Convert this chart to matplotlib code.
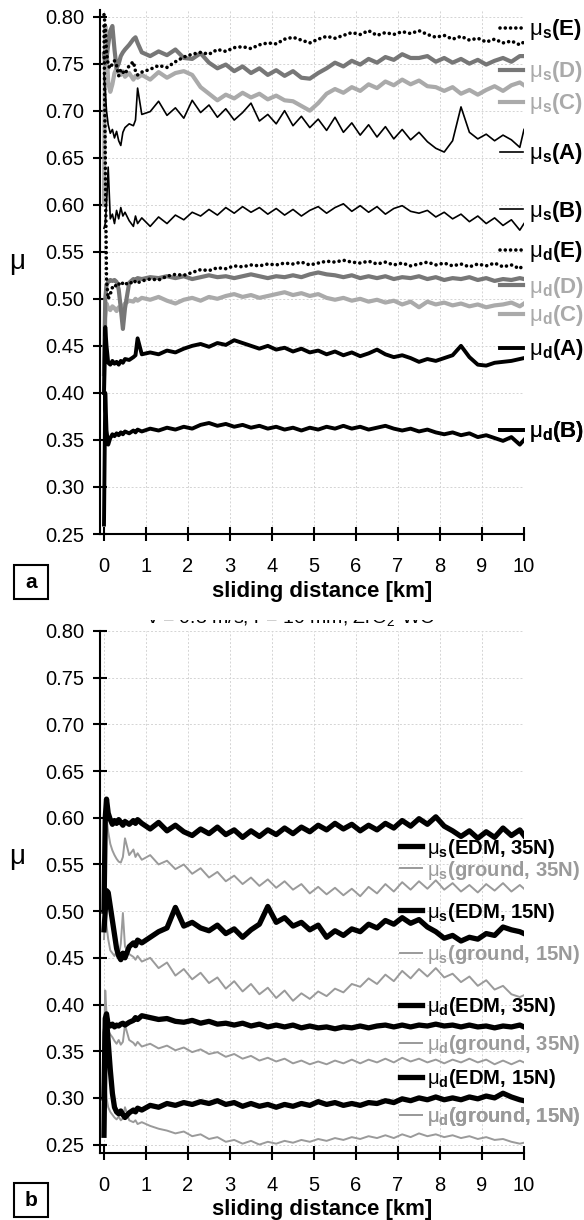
import matplotlib
matplotlib.use("Agg")
import matplotlib.pyplot as plt
from matplotlib.patches import Rectangle
from matplotlib.transforms import Bbox, TransformedBbox

plt.rcParams['font.family'] = ['Liberation Sans', 'DejaVu Sans']
plt.rcParams['mathtext.fontset'] = 'custom'
plt.rcParams['mathtext.rm'] = 'Liberation Sans'
plt.rcParams['mathtext.bf'] = 'Liberation Sans:bold'
plt.rcParams['mathtext.it'] = 'Liberation Sans:italic'

# ---------------- data ----------------
dist_km = [0.0, 0.03, 0.06, 0.1, 0.15, 0.2, 0.25, 0.3, 0.35, 0.4, 0.45, 0.5, 0.6, 0.7, 0.75, 0.8,
           0.9, 1.1, 1.3, 1.5, 1.7, 1.9, 2.1, 2.3, 2.5, 2.7, 2.9, 3.1, 3.3, 3.5, 3.7, 3.9, 4.1, 4.3, 4.5, 4.7, 4.9,
           5.1, 5.3, 5.5, 5.7, 5.9, 6.1, 6.3, 6.5, 6.7, 6.9, 7.1, 7.3, 7.5, 7.7, 7.9, 8.1, 8.3, 8.5, 8.7, 8.9,
           9.1, 9.3, 9.5, 9.7, 9.9, 10.0]

# panel a
mu_s_E = [0.802, 0.790, 0.762, 0.748, 0.745, 0.750, 0.753, 0.748, 0.737, 0.744, 0.741, 0.739, 0.748, 0.752, 0.742, 0.738,
          0.741, 0.744, 0.748, 0.746, 0.752, 0.757, 0.760, 0.762, 0.760, 0.765, 0.763, 0.767, 0.768, 0.766, 0.770, 0.772, 0.771, 0.776, 0.778, 0.775, 0.772,
          0.776, 0.779, 0.777, 0.780, 0.783, 0.781, 0.785, 0.780, 0.783, 0.781, 0.784, 0.782, 0.785, 0.781, 0.778, 0.780, 0.776, 0.779, 0.775, 0.777,
          0.773, 0.776, 0.772, 0.774, 0.770, 0.773]
mu_s_D = [0.760, 0.750, 0.755, 0.770, 0.785, 0.790, 0.765, 0.745, 0.750, 0.758, 0.762, 0.765, 0.770, 0.776, 0.778, 0.772,
          0.762, 0.758, 0.763, 0.759, 0.765, 0.756, 0.755, 0.761, 0.751, 0.745, 0.749, 0.742, 0.747, 0.740, 0.745, 0.738, 0.743, 0.737, 0.742, 0.735, 0.734,
          0.740, 0.745, 0.751, 0.747, 0.753, 0.749, 0.755, 0.751, 0.757, 0.754, 0.760, 0.756, 0.756, 0.758, 0.752, 0.756, 0.751, 0.755, 0.750, 0.754,
          0.749, 0.753, 0.756, 0.752, 0.758, 0.758]
mu_s_C = [0.600, 0.790, 0.770, 0.730, 0.720, 0.728, 0.740, 0.745, 0.740, 0.738, 0.742, 0.736, 0.740, 0.733, 0.737, 0.735,
          0.738, 0.733, 0.741, 0.735, 0.740, 0.742, 0.738, 0.725, 0.718, 0.711, 0.717, 0.713, 0.719, 0.714, 0.718, 0.712, 0.716, 0.711, 0.710, 0.705, 0.700,
          0.708, 0.718, 0.723, 0.719, 0.725, 0.721, 0.728, 0.724, 0.731, 0.727, 0.733, 0.728, 0.732, 0.726, 0.725, 0.721, 0.725, 0.718, 0.722, 0.717,
          0.722, 0.726, 0.721, 0.727, 0.730, 0.727]
mu_s_A = [0.740, 0.720, 0.700, 0.685, 0.676, 0.680, 0.671, 0.678, 0.668, 0.663, 0.677, 0.682, 0.686, 0.684, 0.690, 0.724,
          0.696, 0.699, 0.710, 0.695, 0.703, 0.692, 0.711, 0.698, 0.706, 0.693, 0.702, 0.690, 0.698, 0.708, 0.689, 0.696, 0.686, 0.700, 0.684, 0.694, 0.682,
          0.691, 0.679, 0.693, 0.677, 0.687, 0.674, 0.685, 0.672, 0.683, 0.670, 0.680, 0.669, 0.677, 0.667, 0.660, 0.656, 0.668, 0.704, 0.677, 0.670,
          0.675, 0.668, 0.674, 0.669, 0.661, 0.680]
mu_s_B = [0.575, 0.580, 0.600, 0.640, 0.585, 0.590, 0.580, 0.594, 0.585, 0.597, 0.588, 0.592, 0.583, 0.577, 0.588, 0.580,
          0.586, 0.577, 0.587, 0.580, 0.589, 0.584, 0.592, 0.588, 0.595, 0.589, 0.597, 0.591, 0.598, 0.592, 0.597, 0.590, 0.596, 0.589, 0.595, 0.588, 0.594,
          0.598, 0.591, 0.597, 0.601, 0.593, 0.599, 0.592, 0.598, 0.590, 0.596, 0.599, 0.593, 0.591, 0.594, 0.587, 0.592, 0.585, 0.590, 0.582, 0.588,
          0.580, 0.586, 0.578, 0.584, 0.573, 0.580]
mu_d_E = [0.790, 0.650, 0.520, 0.500, 0.505, 0.512, 0.515, 0.513, 0.516, 0.514, 0.517, 0.515, 0.518, 0.516, 0.519, 0.517,
          0.519, 0.521, 0.520, 0.524, 0.526, 0.525, 0.528, 0.531, 0.530, 0.533, 0.532, 0.535, 0.534, 0.536, 0.535, 0.537, 0.536, 0.538, 0.537, 0.539, 0.536,
          0.538, 0.540, 0.539, 0.541, 0.539, 0.538, 0.540, 0.537, 0.539, 0.536, 0.538, 0.535, 0.537, 0.539, 0.536, 0.538, 0.535, 0.537, 0.534, 0.537,
          0.535, 0.538, 0.534, 0.536, 0.532, 0.537]
mu_d_D = [0.420, 0.500, 0.515, 0.518, 0.520, 0.519, 0.520, 0.518, 0.510, 0.490, 0.468, 0.490, 0.517, 0.521, 0.520, 0.522,
          0.521, 0.523, 0.522, 0.524, 0.522, 0.524, 0.521, 0.523, 0.525, 0.523, 0.524, 0.522, 0.524, 0.526, 0.524, 0.522, 0.524, 0.523, 0.525, 0.523, 0.526,
          0.528, 0.526, 0.525, 0.523, 0.525, 0.522, 0.524, 0.522, 0.524, 0.521, 0.523, 0.522, 0.524, 0.521, 0.523, 0.520, 0.522, 0.521, 0.523, 0.520,
          0.522, 0.519, 0.521, 0.520, 0.522, 0.521]
mu_d_C = [0.400, 0.480, 0.495, 0.490, 0.488, 0.492, 0.490, 0.487, 0.491, 0.489, 0.492, 0.495, 0.498, 0.497, 0.500, 0.498,
          0.501, 0.499, 0.502, 0.498, 0.495, 0.499, 0.501, 0.498, 0.502, 0.500, 0.503, 0.505, 0.502, 0.504, 0.501, 0.503, 0.505, 0.507, 0.504, 0.506, 0.503,
          0.505, 0.501, 0.499, 0.501, 0.498, 0.500, 0.497, 0.499, 0.496, 0.498, 0.494, 0.497, 0.491, 0.497, 0.494, 0.496, 0.493, 0.495, 0.492, 0.494,
          0.491, 0.493, 0.494, 0.496, 0.492, 0.495]
mu_d_A = [0.400, 0.470, 0.450, 0.432, 0.430, 0.434, 0.431, 0.433, 0.430, 0.434, 0.432, 0.436, 0.435, 0.438, 0.440, 0.458,
          0.441, 0.443, 0.441, 0.445, 0.443, 0.447, 0.450, 0.452, 0.449, 0.453, 0.451, 0.456, 0.453, 0.450, 0.447, 0.450, 0.446, 0.448, 0.444, 0.447, 0.443,
          0.445, 0.441, 0.444, 0.440, 0.443, 0.439, 0.442, 0.446, 0.441, 0.438, 0.440, 0.437, 0.433, 0.436, 0.434, 0.437, 0.440, 0.450, 0.438, 0.430,
          0.429, 0.432, 0.433, 0.434, 0.436, 0.437]
mu_d_B = [0.260, 0.400, 0.360, 0.345, 0.352, 0.356, 0.354, 0.357, 0.355, 0.358, 0.356, 0.359, 0.357, 0.360, 0.358, 0.361,
          0.359, 0.362, 0.360, 0.363, 0.361, 0.364, 0.362, 0.366, 0.368, 0.365, 0.367, 0.364, 0.366, 0.363, 0.365, 0.362, 0.364, 0.361, 0.363, 0.360, 0.363,
          0.361, 0.364, 0.362, 0.365, 0.362, 0.364, 0.361, 0.363, 0.365, 0.362, 0.360, 0.362, 0.359, 0.361, 0.358, 0.356, 0.358, 0.355, 0.357, 0.353,
          0.355, 0.352, 0.349, 0.353, 0.345, 0.350]

# panel b
s_edm35 = [0.500, 0.600, 0.620, 0.605, 0.598, 0.593, 0.597, 0.594, 0.598, 0.595, 0.592, 0.596, 0.593, 0.597, 0.594, 0.598,
           0.594, 0.588, 0.595, 0.586, 0.592, 0.585, 0.581, 0.588, 0.583, 0.590, 0.582, 0.587, 0.579, 0.586, 0.580, 0.587, 0.582, 0.589, 0.583, 0.590, 0.585,
           0.592, 0.587, 0.594, 0.588, 0.593, 0.586, 0.592, 0.587, 0.594, 0.589, 0.597, 0.591, 0.599, 0.593, 0.601, 0.591, 0.586, 0.580, 0.586, 0.578,
           0.585, 0.579, 0.589, 0.581, 0.587, 0.581]
s_gr35 = [0.500, 0.610, 0.600, 0.585, 0.572, 0.565, 0.560, 0.556, 0.553, 0.552, 0.558, 0.578, 0.560, 0.566, 0.558, 0.562,
          0.555, 0.560, 0.550, 0.554, 0.545, 0.550, 0.540, 0.546, 0.536, 0.542, 0.532, 0.538, 0.529, 0.536, 0.527, 0.534, 0.525, 0.532, 0.523, 0.529, 0.519,
          0.526, 0.518, 0.525, 0.517, 0.524, 0.516, 0.526, 0.519, 0.529, 0.521, 0.531, 0.523, 0.532, 0.524, 0.533, 0.523, 0.530, 0.521, 0.528, 0.520,
          0.529, 0.522, 0.530, 0.521, 0.528, 0.524]
s_edm15 = [0.480, 0.500, 0.522, 0.520, 0.505, 0.490, 0.475, 0.460, 0.452, 0.448, 0.455, 0.450, 0.462, 0.466, 0.463, 0.469,
           0.466, 0.472, 0.478, 0.482, 0.504, 0.484, 0.488, 0.482, 0.479, 0.485, 0.476, 0.481, 0.472, 0.480, 0.486, 0.505, 0.488, 0.493, 0.484, 0.488, 0.480,
           0.485, 0.472, 0.479, 0.474, 0.481, 0.478, 0.486, 0.482, 0.490, 0.486, 0.493, 0.487, 0.491, 0.483, 0.478, 0.471, 0.474, 0.468, 0.472, 0.470,
           0.476, 0.474, 0.483, 0.480, 0.478, 0.476]
s_gr15 = [0.470, 0.500, 0.485, 0.470, 0.458, 0.455, 0.452, 0.457, 0.452, 0.465, 0.498, 0.462, 0.454, 0.451, 0.448, 0.452,
          0.446, 0.450, 0.439, 0.445, 0.431, 0.438, 0.427, 0.434, 0.423, 0.429, 0.417, 0.425, 0.414, 0.422, 0.411, 0.418, 0.407, 0.415, 0.404, 0.412, 0.406,
          0.414, 0.409, 0.417, 0.413, 0.422, 0.419, 0.428, 0.422, 0.432, 0.425, 0.436, 0.428, 0.438, 0.430, 0.439, 0.429, 0.433, 0.424, 0.430, 0.420,
          0.426, 0.416, 0.420, 0.411, 0.408, 0.410]
d_edm35 = [0.300, 0.385, 0.390, 0.378, 0.377, 0.379, 0.376, 0.378, 0.377, 0.379, 0.380, 0.378, 0.381, 0.383, 0.386, 0.384,
           0.388, 0.386, 0.384, 0.385, 0.382, 0.381, 0.383, 0.380, 0.382, 0.379, 0.380, 0.378, 0.380, 0.377, 0.379, 0.376, 0.378, 0.376, 0.378, 0.375, 0.377,
           0.375, 0.376, 0.374, 0.376, 0.375, 0.377, 0.375, 0.377, 0.378, 0.376, 0.378, 0.376, 0.378, 0.377, 0.379, 0.377, 0.378, 0.376, 0.378, 0.376,
           0.377, 0.375, 0.377, 0.376, 0.378, 0.376]
d_gr35 = [0.360, 0.415, 0.390, 0.372, 0.368, 0.365, 0.361, 0.358, 0.362, 0.357, 0.360, 0.378, 0.362, 0.359, 0.356, 0.360,
          0.355, 0.358, 0.353, 0.356, 0.351, 0.354, 0.349, 0.352, 0.347, 0.349, 0.344, 0.347, 0.342, 0.345, 0.340, 0.343, 0.339, 0.342, 0.337, 0.340, 0.336,
          0.339, 0.336, 0.340, 0.337, 0.341, 0.337, 0.341, 0.338, 0.342, 0.338, 0.343, 0.339, 0.342, 0.338, 0.341, 0.337, 0.341, 0.338, 0.342, 0.338,
          0.341, 0.336, 0.340, 0.336, 0.340, 0.338]
d_edm15 = [0.260, 0.370, 0.385, 0.360, 0.330, 0.305, 0.290, 0.285, 0.283, 0.286, 0.282, 0.279, 0.284, 0.287, 0.285, 0.289,
           0.287, 0.292, 0.290, 0.294, 0.292, 0.295, 0.293, 0.296, 0.294, 0.297, 0.293, 0.295, 0.291, 0.294, 0.291, 0.293, 0.290, 0.293, 0.291, 0.294, 0.292,
           0.296, 0.293, 0.295, 0.292, 0.294, 0.292, 0.295, 0.294, 0.297, 0.295, 0.299, 0.297, 0.300, 0.298, 0.301, 0.298, 0.300, 0.298, 0.301, 0.299,
           0.302, 0.300, 0.305, 0.301, 0.298, 0.297]
d_gr15 = [0.260, 0.320, 0.300, 0.290, 0.285, 0.282, 0.279, 0.277, 0.280, 0.276, 0.278, 0.290, 0.276, 0.274, 0.276, 0.272,
          0.274, 0.270, 0.267, 0.265, 0.262, 0.264, 0.259, 0.261, 0.256, 0.258, 0.253, 0.255, 0.251, 0.254, 0.250, 0.253, 0.251, 0.254, 0.252, 0.255, 0.253,
          0.256, 0.254, 0.257, 0.255, 0.258, 0.256, 0.259, 0.257, 0.260, 0.257, 0.261, 0.258, 0.262, 0.259, 0.261, 0.258, 0.260, 0.257, 0.259, 0.256,
          0.258, 0.255, 0.256, 0.253, 0.251, 0.252]

x_ticks = [0, 1, 2, 3, 4, 5, 6, 7, 8, 9, 10]
y_ticks = [0.25, 0.30, 0.35, 0.40, 0.45, 0.50, 0.55, 0.60, 0.65, 0.70, 0.75, 0.80]

for s in [mu_s_E, mu_s_D, mu_s_C, mu_s_A, mu_s_B, mu_d_E, mu_d_D, mu_d_C, mu_d_A, mu_d_B,
          s_edm35, s_gr35, s_edm15, s_gr15, d_edm35, d_gr35, d_edm15, d_gr15]:
    assert len(s) == len(dist_km), len(s)

# ---------------- figure ----------------
W, H = 584, 1220
fig = plt.figure(figsize=(W / 100, H / 100), dpi=100)

def fx(px):
    return px / W

def fy(py):
    return 1 - py / H

ax_a = fig.add_axes([fx(100), fy(534), fx(524) - fx(100), fy(10) - fy(534)])
ax_b = fig.add_axes([fx(100), fy(1153), fx(524) - fx(100), fy(631) - fy(1153)])

DARK = '#777777'
LIGHT = '#aaaaaa'
GRAY_B = '#9a9a9a'
dot_ls = (0, (0.01, 1.45))

# panel a lines
lC_s, = ax_a.plot(dist_km, mu_s_C, color=LIGHT, lw=3.0, solid_joinstyle='round')
lC_d, = ax_a.plot(dist_km, mu_d_C, color=LIGHT, lw=3.0, solid_joinstyle='round')
lD_s, = ax_a.plot(dist_km, mu_s_D, color=DARK, lw=3.0, solid_joinstyle='round')
lD_d, = ax_a.plot(dist_km, mu_d_D, color=DARK, lw=3.0, solid_joinstyle='round')
lA_s, = ax_a.plot(dist_km, mu_s_A, color='black', lw=1.2)
lB_s, = ax_a.plot(dist_km, mu_s_B, color='black', lw=1.2)
lA_d, = ax_a.plot(dist_km, mu_d_A, color='black', lw=2.8, solid_joinstyle='round')
lB_d, = ax_a.plot(dist_km, mu_d_B, color='black', lw=2.8, solid_joinstyle='round')
lE_s, = ax_a.plot(dist_km, mu_s_E, color='black', lw=2.6, ls=dot_ls, dash_capstyle='round')
lE_d, = ax_a.plot(dist_km, mu_d_E, color='black', lw=2.6, ls=dot_ls, dash_capstyle='round')

# panel b lines
g1, = ax_b.plot(dist_km, s_gr35, color=GRAY_B, lw=1.4)
g2, = ax_b.plot(dist_km, s_gr15, color=GRAY_B, lw=1.4)
g3, = ax_b.plot(dist_km, d_gr35, color=GRAY_B, lw=1.4)
g4, = ax_b.plot(dist_km, d_gr15, color=GRAY_B, lw=1.4)
e1, = ax_b.plot(dist_km, s_edm35, color='black', lw=3.8, solid_joinstyle='round')
e2, = ax_b.plot(dist_km, s_edm15, color='black', lw=3.8, solid_joinstyle='round')
e3, = ax_b.plot(dist_km, d_edm35, color='black', lw=3.8, solid_joinstyle='round')
e4, = ax_b.plot(dist_km, d_edm15, color='black', lw=3.8, solid_joinstyle='round')

for ax, ylim in ((ax_a, (0.25, 0.807)), (ax_b, (0.241, 0.80))):
    ax.set_xlim(-0.095, 10.0)
    ax.set_ylim(*ylim)
    ax.set_xticks(x_ticks)
    ax.set_yticks(y_ticks)
    ax.set_yticklabels(['%.2f' % v for v in y_ticks])
    ax.spines['top'].set_visible(False)
    ax.spines['right'].set_visible(False)
    ax.spines['left'].set_linewidth(1.5)
    ax.spines['bottom'].set_linewidth(1.5)
    ax.tick_params(direction='inout', length=10.5, width=1.5, labelsize=14.5)
    ax.tick_params(axis='x', pad=11.5)
    ax.tick_params(axis='y', pad=6.0)
    ax.grid(True, color='#d4d4d4', lw=0.7, ls=(0, (2, 2)))
    ax.set_axisbelow(True)
    ax.set_xlabel('sliding distance [km]', fontsize=16, fontweight='bold', va='center')
    ax.set_ylabel('\u03bc', fontsize=20, rotation=0, va='center', ha='center')

ax_a.xaxis.set_label_coords((322 - 100) / 424, (534 - 592) / 524)
ax_b.xaxis.set_label_coords((322 - 100) / 424, (1153 - 1210) / 522)
ax_a.yaxis.set_label_coords((17 - 100) / 424, (534 - 262) / 524)
ax_b.yaxis.set_label_coords((17 - 100) / 424, (1153 - 857) / 522)


def tag(ax, line, label, xf, yf, tcolor, fs, hl):
    leg = ax.legend([line], [label], loc='center left', bbox_to_anchor=(xf, yf),
                    frameon=False, borderpad=0, borderaxespad=0, handlelength=hl,
                    handletextpad=0.25, prop={'weight': 'bold', 'size': fs},
                    labelcolor=tcolor)
    ax.add_artist(leg)


MS = r'$\mathrm{\mu}_{\mathbf{s}}$'
MD = r'$\mathrm{\mu}_{\mathbf{d}}$'
xa = (500 - 100) / 424
tags_a = [
    (lE_s, MS + '(E)', 30, 'black'),
    (lD_s, MS + '(D)', 72, LIGHT),
    (lC_s, MS + '(C)', 104, LIGHT),
    (lA_s, MS + '(A)', 154, 'black'),
    (lB_s, MS + '(B)', 211, 'black'),
    (lE_d, MD + '(E)', 252, 'black'),
    (lD_d, MD + '(D)', 287, LIGHT),
    (lC_d, MD + '(C)', 316, LIGHT),
    (lA_d, MD + '(A)', 350, 'black'),
    (lB_d, MD + '(B)', 432, 'black'),
]
for line, lab, py, col in tags_a:
    tag(ax_a, line, lab, xa, (534 - py) / 524, col, 16, 1.05)

xb = (400 - 100) / 424
tags_b = [
    (e1, MS + '(EDM, 35N)', 848, 'black'),
    (g1, MS + '(ground, 35N)', 870, GRAY_B),
    (e2, MS + '(EDM, 15N)', 912, 'black'),
    (g2, MS + '(ground, 15N)', 955, GRAY_B),
    (e3, MD + '(EDM, 35N)', 1007, 'black'),
    (g3, MD + '(ground, 35N)', 1045, GRAY_B),
    (e4, MD + '(EDM, 15N)', 1079, 'black'),
    (g4, MD + '(ground, 15N)', 1117, GRAY_B),
]
for line, lab, py, col in tags_b:
    tag(ax_b, line, lab, xb, (1153 - py) / 522, col, 14.6, 1.1)

# panel letters
for letter, top in (('a', 565), ('b', 1183)):
    fig.add_artist(Rectangle((fx(14), fy(top + 34)), fx(48) - fx(14), fy(top) - fy(top + 34),
                             transform=fig.transFigure, fill=False, lw=1.5, ec='black'))
    fig.text(fx(31), fy(top + 17), letter, ha='center', va='center', fontsize=15, fontweight='bold')

# partially hidden title of panel b (only the lower edge of the glyphs shows)
t = fig.text(fx(147), fy(623), 'v = 0.3 m/s, r = 10 mm, ZrO$_2$-WC', fontsize=14,
             ha='left', va='baseline', color='black')
t.set_clip_on(True)
t.set_clip_box(TransformedBbox(Bbox([[0, fy(631)], [1, fy(619.5)]]), fig.transFigure))

fig.savefig('out.png', dpi=100)
